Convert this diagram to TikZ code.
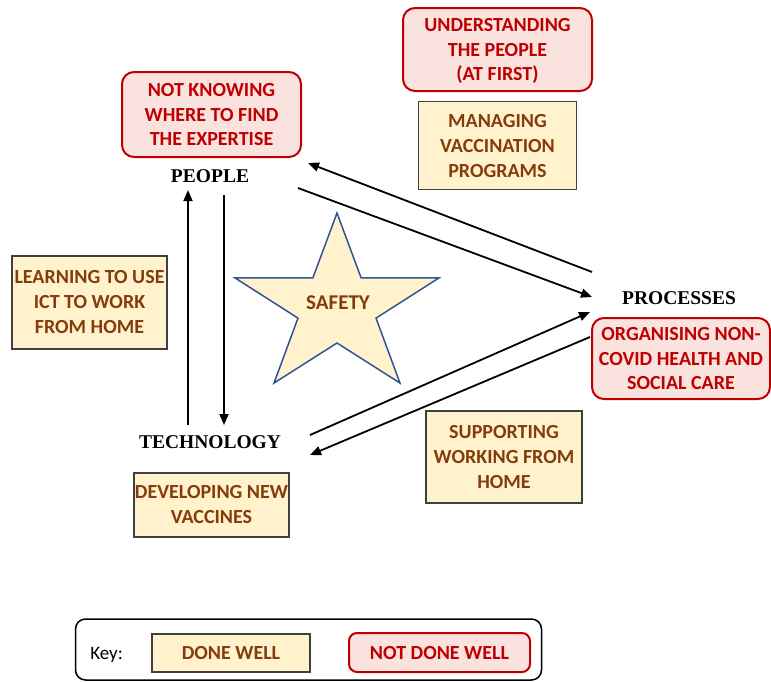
\documentclass[tikz,border=0pt]{standalone}
\usepackage{fontspec}
\setmainfont{Liberation Serif}
\newfontfamily\boxfont{Carlito}
\usetikzlibrary{positioning,calc,arrows.meta}

\definecolor{tanfill}{RGB}{255,242,204}
\definecolor{tanline}{RGB}{64,64,64}
\definecolor{tantext}{RGB}{133,60,12}
\definecolor{redfill}{RGB}{250,226,222}
\definecolor{redline}{RGB}{192,0,0}
\definecolor{redtext}{RGB}{192,0,0}
\definecolor{starline}{RGB}{47,85,151}

\begin{document}
\begin{tikzpicture}[x=1pt, y=-1pt, node distance={9pt},
  good/.style = {draw=tanline, fill=tanfill, line width=1.2pt, text=tantext, align=center, inner sep=0pt,
                 font=\boxfont\bfseries\fontsize{20}{25}\selectfont},
  bad/.style = {draw=redline, fill=redfill, line width=2pt, rounded corners=12pt, text=redtext, align=center,
                inner sep=0pt, text depth=0pt, font=\boxfont\bfseries\fontsize{20}{24.5}\selectfont},
  corner/.style = {font=\bfseries\fontsize{19.5}{22}\selectfont},
  link/.style = {line width=1.8pt, -{Triangle[length=11pt,width=9pt]}}]
  \useasboundingbox (0,0) rectangle (771,681);

  % the three corners
  \node[corner] (people) at (210,176) {PEOPLE};
  \node[corner] (processes) at (679,298) {PROCESSES};
  \node[corner] (technology) at (210,442) {TECHNOLOGY};

  % boxes
  \node[bad, minimum width=189, minimum height=83] (understand) at (497.5,49.5) {UNDERSTANDING\\THE PEOPLE\\(AT FIRST)};
  \node[good, minimum width=158, minimum height=88] (managing) [below=9pt of understand] {MANAGING\\VACCINATION\\PROGRAMS};
  \node[bad, minimum width=179, minimum height=85] (notknow) at (211.5,114.5) {NOT KNOWING\\WHERE TO FIND\\THE EXPERTISE};
  \node[good, minimum width=155, minimum height=93] (learning) at (89.5,302.5) {LEARNING TO USE\\ICT TO WORK\\FROM HOME};
  \node[bad, minimum width=178, minimum height=81] (organise) at (681,358.5) {ORGANISING NON-\\COVID HEALTH AND\\SOCIAL CARE};
  \node[good, minimum width=155, minimum height=64] (developing) at (211.5,505) {DEVELOPING NEW\\VACCINES};
  \node[good, minimum width=156, minimum height=92] (supporting) at (504,457) {SUPPORTING\\WORKING FROM\\HOME};

  % safety star
  \begin{scope}[shift={(337,307)}, xscale=1.14]
    \draw[draw=starline, fill=tanfill, line width=1.5pt, line join=miter]
      (-90:94) \foreach \a in {-90,-18,54,126,198} {-- (\a:94) -- (\a+36:36)} -- cycle;
  \end{scope}
  \node[text=tantext, font=\boxfont\bfseries\fontsize{21}{24}\selectfont] (safety) at (338,303) {SAFETY};

  % arrows
  \draw[link] ($(technology)+(-22,-17)$) -- ($(people)+(-22,14)$);
  \draw[link] ($(people)+(14,19)$) -- ($(technology)+(14,-17)$);
  \draw[link] ($(people)+(88,12)$) -- ($(processes)+(-87,-1)$);
  \draw[link] ($(processes)+(-87,-26)$) -- ($(people)+(98,-13)$);
  \draw[link] ($(technology)+(100,-7)$) -- ($(processes)+(-89,14)$);
  \draw[link] ($(processes)+(-89,39)$) -- ($(technology)+(100,13)$);

  % key
  \node[draw, line width=1.5pt, rounded corners=10pt, minimum width=466, minimum height=61] (legend) at (308.5,649.5) {};
  \node[font=\boxfont\fontsize{19}{22}\selectfont, anchor=west] (keylabel) at ($(legend.west)+(12,5)$) {Key:};
  \node[good, minimum width=158, minimum height=38] (donewell) at (231,653) {DONE WELL};
  \node[bad, minimum width=181, minimum height=39, rounded corners=8pt] (notdonewell) at (439.5,652.5) {NOT DONE WELL};
\end{tikzpicture}
\end{document}
